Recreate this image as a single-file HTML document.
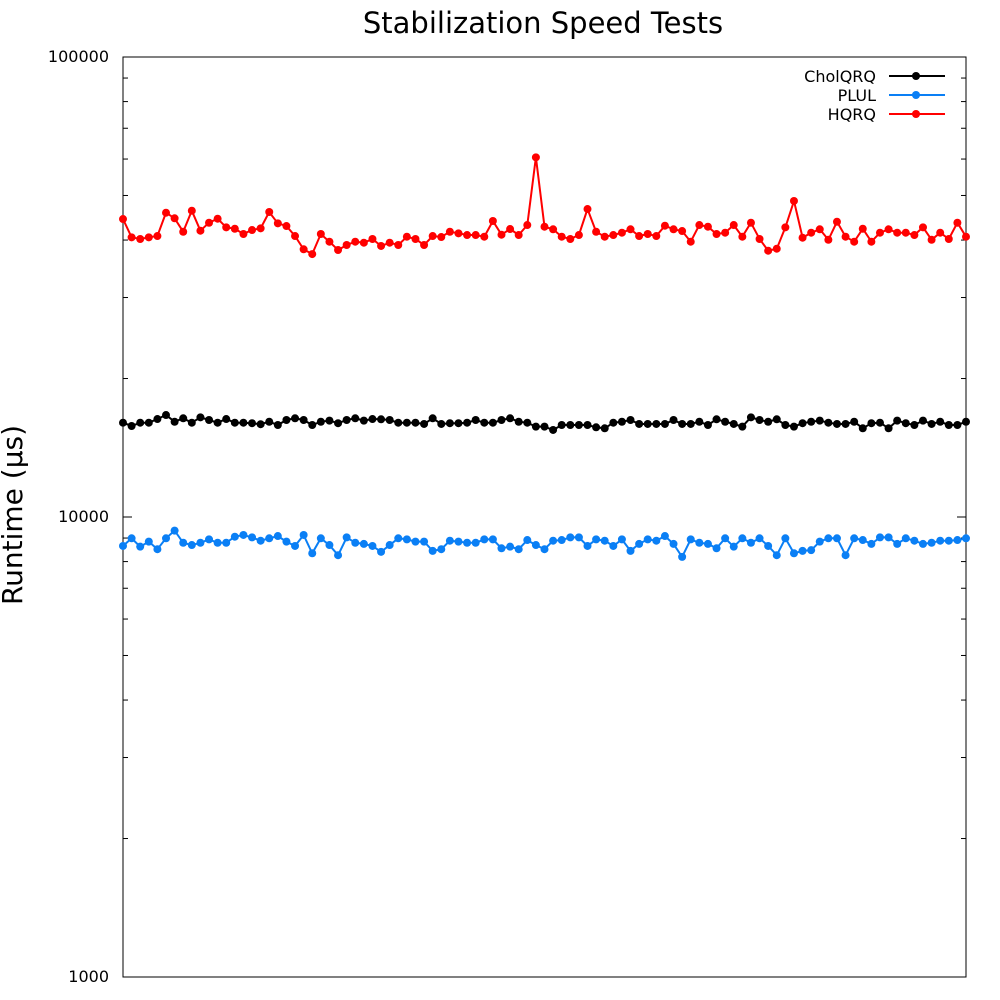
<!DOCTYPE html>
<html><head><meta charset="utf-8"><style>
html,body{margin:0;padding:0;background:#fff;}
svg{display:block;font-family:"DejaVu Sans","Liberation Sans",sans-serif;}
</style></head><body>
<svg id="chart" width="1000" height="1000" viewBox="0 0 1000 1000">
<rect width="1000" height="1000" fill="#fff"/>
<text x="543" y="33" font-size="29" text-anchor="middle">Stabilization Speed Tests</text>
<text x="0" y="0" font-size="28" text-anchor="middle" transform="translate(22,515) rotate(-90)">Runtime (µs)</text>
<g id="axes"></g>
<g id="series"></g>
<g id="legend"></g>
</svg>
<script>
const yTicks = [1000, 10000, 100000];
const yTickLabels = ["1000", "10000", "100000"];
const seriesNames = ["CholQRQ", "PLUL", "HQRQ"];
const cholqrq = [16030,15770,16030,16030,16330,16660,16110,16390,16030,16470,16250,16030,16330,16030,16030,15990,15910,16110,15850,16250,16390,16250,15850,16110,16200,15990,16250,16390,16200,16330,16310,16250,16030,16030,16030,15930,16390,15930,15990,15990,16030,16250,16030,16030,16250,16390,16110,16030,15720,15720,
15460,15850,15850,15850,15850,15670,15590,16030,16110,16250,15930,15930,15930,15930,16250,15930,15930,16110,15850,16310,16110,15930,15720,16470,16250,16110,16310,15850,15720,15990,16110,16200,16030,15930,15930,16110,15590,15990,16030,15590,16200,15990,15850,16200,15930,16110,15850,15850,16110];
const plul = [8650,8990,8620,8840,8510,8990,9340,8790,8690,8790,8940,8790,8790,9060,9140,9030,8880,8990,9090,8840,8650,9140,8340,8990,8690,8260,9030,8790,8740,8650,8400,8690,8990,8940,8840,8840,8440,8510,8880,8840,8790,8790,8940,8940,8550,8620,8510,8910,8690,8510,
8880,8910,9030,9030,8650,8940,8880,8650,8940,8440,8740,8940,8880,9090,8740,8190,8940,8790,8740,8550,8990,8620,8990,8790,8990,8650,8260,8990,8340,8440,8470,8840,8990,8990,8260,8990,8910,8740,9030,9030,8740,8990,8880,8740,8790,8880,8880,8910,8990];
const hqrq = [44440,40550,40210,40550,40810,45870,44600,41700,46330,41910,43620,44510,42630,42330,41230,42060,42420,46030,43490,42910,40810,38190,37290,41230,39670,38060,39020,39670,39470,40210,38830,39470,39020,40670,40210,39020,40810,40610,41700,41370,41020,41020,40670,44000,41080,42270,41020,43120,60520,42760,
42210,40670,40210,41020,46720,41700,40670,41020,41500,42210,40810,41230,40810,42980,42210,41850,39670,43120,42760,41230,41500,43120,40670,43620,40210,37920,38300,42630,48640,40470,41500,42210,40060,43840,40670,39670,42330,39670,41500,42210,41500,41500,41020,42630,40060,41500,40210,43620,40670];
const colors = ["#000000", "#0a7ff5", "#ff0000"];

const NS = "http://www.w3.org/2000/svg";
const L = 123, R = 966, T = 57, B = 977;
const n = hqrq.length;
function xS(i){ return L + i * (R - L) / (n - 1); }
function yS(v){ return T + (5 - Math.log10(v)) * (B - T) / 2; }
function mk(tag, attrs, parent){ const e = document.createElementNS(NS, tag); for (const k in attrs) e.setAttribute(k, attrs[k]); parent.appendChild(e); return e; }

const axes = document.getElementById("axes");
const frame = mk("rect", {x:L, y:T, width:R-L, height:B-T, fill:"none", stroke:"#000", "stroke-width":1}, axes);


for (let d = 3; d < 5; d++) {
  for (let m = 1; m <= 9; m++) {
    const v = m * Math.pow(10, d);
    const y = yS(v);
    const len = m === 1 ? 9 : 5;
    const t1 = mk("line", {x1:L, x2:L+len, y1:y, y2:y, stroke:"#000"}, axes);
    
    
    const t2 = mk("line", {x1:R-len, x2:R, y1:y, y2:y, stroke:"#000"}, axes);
    
    
  }
}
yTicks.forEach((v, i) => {
  const t = mk("text", {x:L-14, y:yS(v)+5, "font-size":16, "text-anchor":"end"}, axes);
  t.textContent = yTickLabels[i];
  
  
});

const sg = document.getElementById("series");
[cholqrq, plul, hqrq].forEach((data, s) => {
  const g = mk("g", {}, sg);
  
  
  const pts = data.map((v, i) => xS(i).toFixed(1) + "," + yS(v).toFixed(1)).join(" ");
  const pl = mk("polyline", {points:pts, fill:"none", stroke:colors[s], "stroke-width":2}, g);
  
  
  data.forEach((v, i) => {
    const c = mk("circle", {cx:xS(i), cy:yS(v), r:4, fill:colors[s]}, g);
    
    
  });
});

const lg = document.getElementById("legend");
seriesNames.forEach((name, s) => {
  const y = 76 + s * 19;
  const g = mk("g", {}, lg);
  
  
  const t = mk("text", {x:876, y:y+6, "font-size":16, "text-anchor":"end"}, g);
  t.textContent = name;
  mk("line", {x1:889, x2:945, y1:y, y2:y, stroke:colors[s], "stroke-width":2}, g);
  mk("circle", {cx:916, cy:y, r:4, fill:colors[s]}, g);
});
</script>
</body></html>
